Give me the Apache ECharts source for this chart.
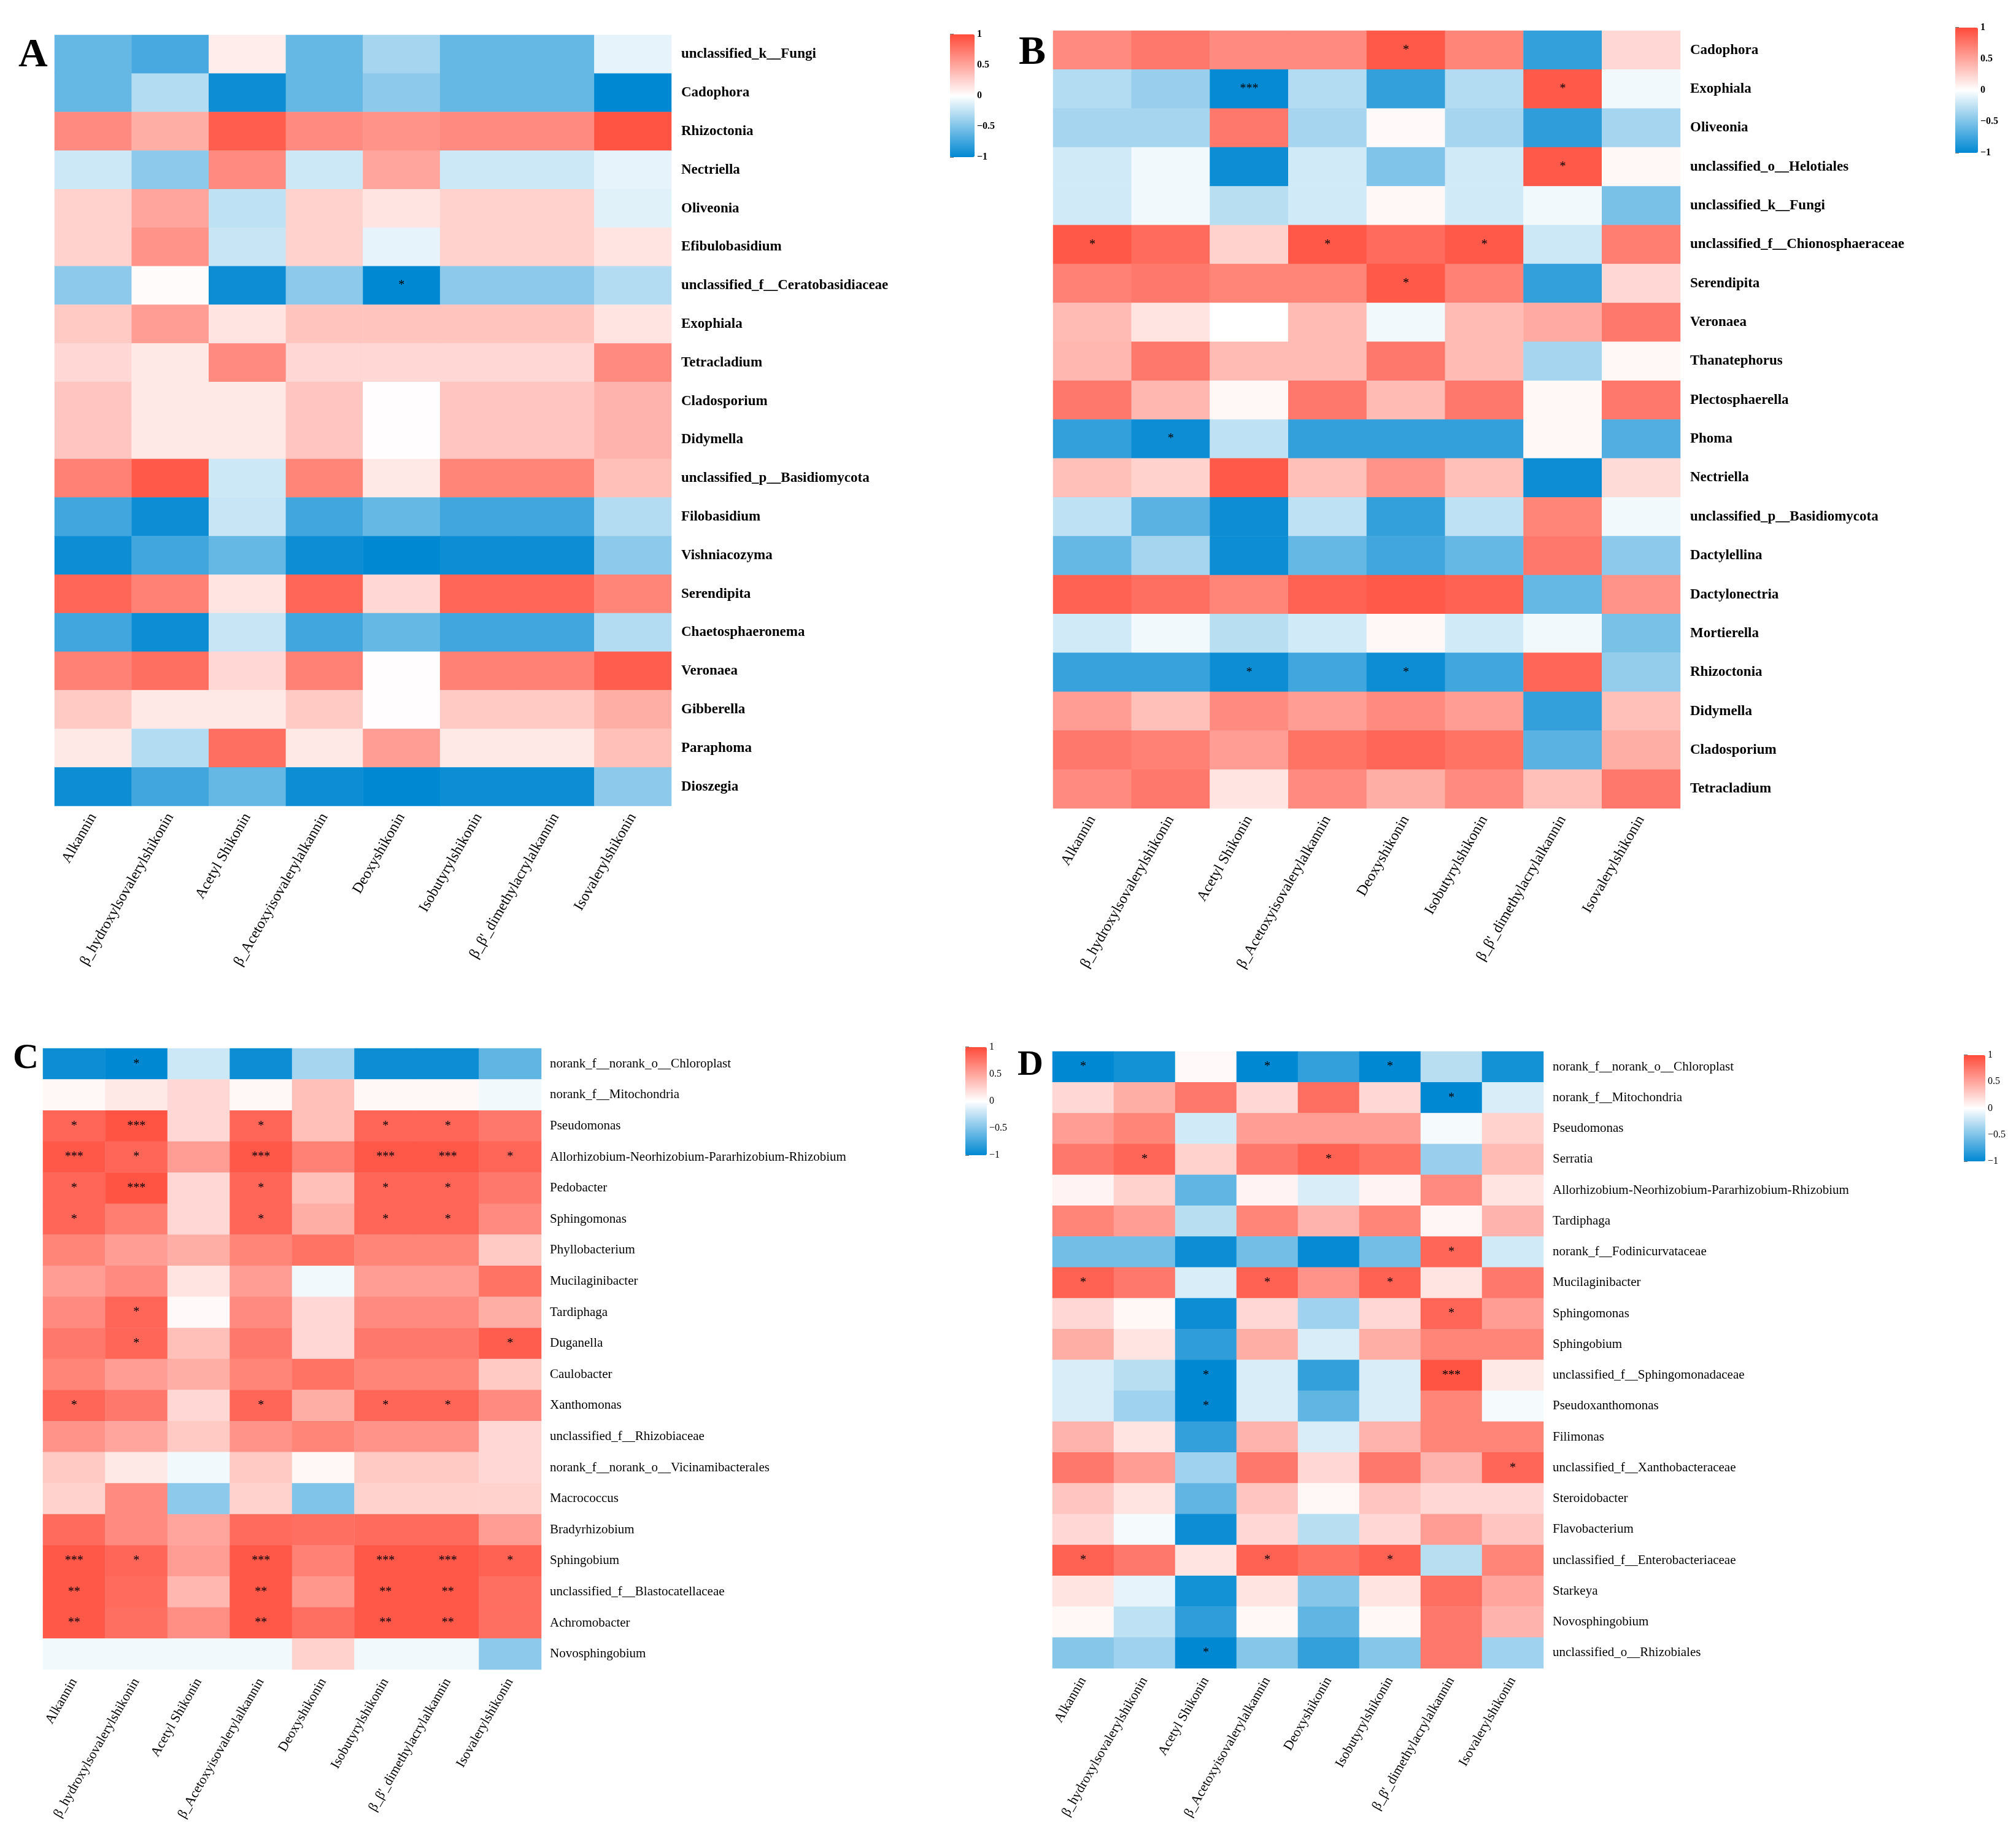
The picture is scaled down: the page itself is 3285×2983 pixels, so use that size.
<!DOCTYPE html>
<html><head><meta charset="utf-8">
<script src="https://cdn.jsdelivr.net/npm/echarts@6/dist/echarts.min.js"></script>
<style>html,body{margin:0;padding:0;background:#fff}#c{width:3285px;height:2983px}</style>
</head><body><div id="c"></div>
<script>
// ---------- DATA ----------
const compounds = ["Alkannin","β_hydroxylsovalerylshikonin","Acetyl Shikonin","β_Acetoxyisovalerylalkannin","Deoxyshikonin","Isobutyrylshikonin","β_β'_dimethylacrylalkannin","Isovalerylshikonin"];

const rowsA = ["unclassified_k__Fungi","Cadophora","Rhizoctonia","Nectriella","Oliveonia","Efibulobasidium","unclassified_f__Ceratobasidiaceae","Exophiala","Tetracladium","Cladosporium","Didymella","unclassified_p__Basidiomycota","Filobasidium","Vishniacozyma","Serendipita","Chaetosphaeronema","Veronaea","Gibberella","Paraphoma","Dioszegia"];
const valuesA = [
 [-0.6,-0.72,0.1,-0.6,-0.35,-0.6,-0.6,-0.1],
 [-0.6,-0.3,-0.95,-0.6,-0.45,-0.6,-0.6,-1.0],
 [0.65,0.45,0.9,0.65,0.6,0.65,0.65,0.95],
 [-0.2,-0.45,0.65,-0.2,0.5,-0.2,-0.2,-0.1],
 [0.25,0.5,-0.25,0.25,0.15,0.25,0.25,-0.12],
 [0.25,0.6,-0.22,0.25,-0.1,0.25,0.25,0.15],
 [-0.45,0.02,-0.95,-0.45,-1.0,-0.45,-0.45,-0.3],
 [0.3,0.55,0.15,0.33,0.33,0.33,0.33,0.15],
 [0.22,0.12,0.65,0.22,0.22,0.22,0.22,0.65],
 [0.32,0.12,0.12,0.32,0.01,0.32,0.32,0.42],
 [0.32,0.12,0.12,0.32,0.01,0.32,0.32,0.42],
 [0.7,0.92,-0.2,0.68,0.12,0.68,0.68,0.35],
 [-0.75,-0.95,-0.22,-0.75,-0.6,-0.75,-0.75,-0.3],
 [-0.95,-0.75,-0.6,-0.95,-1.0,-0.95,-0.95,-0.45],
 [0.85,0.7,0.15,0.85,0.22,0.85,0.85,0.68],
 [-0.75,-0.95,-0.22,-0.75,-0.6,-0.75,-0.75,-0.3],
 [0.7,0.8,0.22,0.7,0.01,0.7,0.7,0.9],
 [0.3,0.12,0.12,0.3,0.01,0.3,0.3,0.45],
 [0.12,-0.3,0.8,0.12,0.55,0.12,0.12,0.35],
 [-0.95,-0.75,-0.6,-0.95,-1.0,-0.95,-0.95,-0.45]
];
const sigA = [[6,4,"*"]];

const rowsB = ["Cadophora","Exophiala","Oliveonia","unclassified_o__Helotiales","unclassified_k__Fungi","unclassified_f__Chionosphaeraceae","Serendipita","Veronaea","Thanatephorus","Plectosphaerella","Phoma","Nectriella","unclassified_p__Basidiomycota","Dactylellina","Dactylonectria","Mortierella","Rhizoctonia","Didymella","Cladosporium","Tetracladium"];
const valuesB = [
 [0.65,0.75,0.65,0.65,0.92,0.68,-0.8,0.22],
 [-0.3,-0.4,-0.98,-0.3,-0.8,-0.3,0.92,-0.05],
 [-0.35,-0.35,0.75,-0.35,0.03,-0.35,-0.82,-0.35],
 [-0.18,-0.05,-0.95,-0.18,-0.5,-0.18,0.92,0.04],
 [-0.18,-0.05,-0.28,-0.18,0.04,-0.18,-0.05,-0.52],
 [0.93,0.82,0.25,0.93,0.82,0.92,-0.2,0.72],
 [0.7,0.75,0.68,0.68,0.92,0.7,-0.8,0.22],
 [0.38,0.15,0.0,0.38,-0.05,0.38,0.47,0.75],
 [0.4,0.75,0.38,0.38,0.75,0.38,-0.35,0.04],
 [0.75,0.4,0.04,0.75,0.38,0.75,0.04,0.75],
 [-0.8,-0.95,-0.25,-0.8,-0.8,-0.8,0.04,-0.68],
 [0.35,0.25,0.92,0.35,0.6,0.35,-0.95,0.2],
 [-0.25,-0.65,-0.95,-0.25,-0.8,-0.25,0.68,-0.05],
 [-0.6,-0.35,-0.95,-0.6,-0.75,-0.6,0.75,-0.45],
 [0.88,0.8,0.68,0.88,0.92,0.88,-0.6,0.6],
 [-0.18,-0.05,-0.28,-0.18,0.04,-0.18,-0.05,-0.52],
 [-0.78,-0.78,-0.95,-0.75,-0.95,-0.75,0.85,-0.42],
 [0.55,0.35,0.65,0.55,0.65,0.55,-0.8,0.35],
 [0.75,0.7,0.55,0.78,0.85,0.78,-0.65,0.45],
 [0.65,0.75,0.15,0.65,0.45,0.65,0.35,0.75]
];
const sigB = [[0,4,"*"],[1,2,"***"],[1,6,"*"],[3,6,"*"],[5,0,"*"],[5,3,"*"],[5,5,"*"],[6,4,"*"],[10,1,"*"],[16,2,"*"],[16,4,"*"]];

const rowsC = ["norank_f__norank_o__Chloroplast","norank_f__Mitochondria","Pseudomonas","Allorhizobium-Neorhizobium-Pararhizobium-Rhizobium","Pedobacter","Sphingomonas","Phyllobacterium","Mucilaginibacter","Tardiphaga","Duganella","Caulobacter","Xanthomonas","unclassified_f__Rhizobiaceae","norank_f__norank_o__Vicinamibacterales","Macrococcus","Bradyrhizobium","Sphingobium","unclassified_f__Blastocatellaceae","Achromobacter","Novosphingobium"];
const valuesC = [
 [-0.95,-1.0,-0.2,-0.95,-0.35,-0.95,-0.95,-0.62],
 [0.04,0.12,0.22,0.04,0.35,0.04,0.04,-0.05],
 [0.85,0.95,0.22,0.85,0.35,0.85,0.85,0.75],
 [0.93,0.85,0.55,0.93,0.7,0.93,0.93,0.85],
 [0.85,0.95,0.22,0.85,0.35,0.85,0.85,0.75],
 [0.85,0.72,0.22,0.85,0.45,0.85,0.85,0.65],
 [0.68,0.55,0.45,0.68,0.78,0.68,0.68,0.3],
 [0.55,0.65,0.15,0.55,-0.05,0.55,0.55,0.78],
 [0.65,0.85,0.03,0.65,0.22,0.65,0.65,0.45],
 [0.75,0.85,0.35,0.75,0.22,0.75,0.75,0.9],
 [0.68,0.55,0.45,0.68,0.78,0.68,0.68,0.3],
 [0.85,0.75,0.22,0.85,0.45,0.85,0.85,0.65],
 [0.6,0.5,0.3,0.6,0.68,0.6,0.6,0.22],
 [0.3,0.12,-0.05,0.3,0.04,0.3,0.3,0.22],
 [0.25,0.65,-0.45,0.25,-0.5,0.25,0.25,0.25],
 [0.82,0.65,0.5,0.82,0.8,0.82,0.82,0.55],
 [0.93,0.85,0.55,0.93,0.7,0.93,0.93,0.88],
 [0.93,0.82,0.4,0.93,0.58,0.93,0.93,0.8],
 [0.93,0.8,0.62,0.93,0.8,0.93,0.93,0.8],
 [-0.05,-0.05,-0.05,-0.05,0.25,-0.05,-0.05,-0.45]
];
const sigC = [[0,1,"*"],
 [2,0,"*"],[2,1,"***"],[2,3,"*"],[2,5,"*"],[2,6,"*"],
 [3,0,"***"],[3,1,"*"],[3,3,"***"],[3,5,"***"],[3,6,"***"],[3,7,"*"],
 [4,0,"*"],[4,1,"***"],[4,3,"*"],[4,5,"*"],[4,6,"*"],
 [5,0,"*"],[5,3,"*"],[5,5,"*"],[5,6,"*"],
 [8,1,"*"],[9,1,"*"],[9,7,"*"],
 [11,0,"*"],[11,3,"*"],[11,5,"*"],[11,6,"*"],
 [16,0,"***"],[16,1,"*"],[16,3,"***"],[16,5,"***"],[16,6,"***"],[16,7,"*"],
 [17,0,"**"],[17,3,"**"],[17,5,"**"],[17,6,"**"],
 [18,0,"**"],[18,3,"**"],[18,5,"**"],[18,6,"**"]];

const rowsD = ["norank_f__norank_o__Chloroplast","norank_f__Mitochondria","Pseudomonas","Serratia","Allorhizobium-Neorhizobium-Pararhizobium-Rhizobium","Tardiphaga","norank_f__Fodinicurvataceae","Mucilaginibacter","Sphingomonas","Sphingobium","unclassified_f__Sphingomonadaceae","Pseudoxanthomonas","Filimonas","unclassified_f__Xanthobacteraceae","Steroidobacter","Flavobacterium","unclassified_f__Enterobacteriaceae","Starkeya","Novosphingobium","unclassified_o__Rhizobiales"];
const valuesD = [
 [-1.0,-0.92,0.03,-1.0,-0.8,-1.0,-0.28,-0.92],
 [0.22,0.45,0.75,0.22,0.8,0.22,-1.0,-0.15],
 [0.55,0.68,-0.18,0.55,0.55,0.55,-0.04,0.25],
 [0.75,0.85,0.25,0.75,0.88,0.78,-0.4,0.38],
 [0.06,0.25,-0.62,0.06,-0.15,0.06,0.65,0.15],
 [0.68,0.55,-0.28,0.68,0.42,0.68,0.05,0.42],
 [-0.55,-0.55,-0.95,-0.55,-0.98,-0.55,0.85,-0.18],
 [0.88,0.75,-0.15,0.88,0.6,0.88,0.15,0.75],
 [0.22,0.04,-0.95,0.22,-0.38,0.22,0.85,0.55],
 [0.45,0.15,-0.82,0.45,-0.15,0.45,0.68,0.68],
 [-0.15,-0.28,-1.0,-0.15,-0.8,-0.15,0.95,0.12],
 [-0.15,-0.38,-1.0,-0.15,-0.62,-0.15,0.68,-0.04],
 [0.42,0.15,-0.8,0.42,-0.15,0.42,0.68,0.68],
 [0.75,0.55,-0.38,0.75,0.22,0.75,0.42,0.85],
 [0.32,0.15,-0.62,0.32,0.04,0.32,0.22,0.22],
 [0.22,-0.04,-0.95,0.22,-0.28,0.22,0.55,0.32],
 [0.88,0.75,0.15,0.88,0.78,0.88,-0.28,0.68],
 [0.15,-0.1,-0.92,0.15,-0.48,0.15,0.8,0.5],
 [0.04,-0.25,-0.82,0.04,-0.62,0.04,0.75,0.42],
 [-0.48,-0.38,-1.0,-0.48,-0.8,-0.48,0.75,-0.38]
];
const sigD = [[0,0,"*"],[0,3,"*"],[0,5,"*"],[1,6,"*"],[3,1,"*"],[3,4,"*"],[6,6,"*"],
 [7,0,"*"],[7,3,"*"],[7,5,"*"],[8,6,"*"],[10,2,"*"],[10,6,"***"],[11,2,"*"],[13,7,"*"],
 [16,0,"*"],[16,3,"*"],[16,5,"*"],[19,2,"*"]];

const scaleTicks = [-1,-0.5,0,0.5,1];
const panelLetters = ["A","B","C","D"];

// ---------- LAYOUT ----------
const FONT = '"Liberation Serif","Times New Roman",serif';
const panels = [
 {rows:rowsA, vals:valuesA, sig:sigA, grid:{left:89,top:57,width:1005,height:1256}, bar:{left:1548,top:56,w:40,h:200}, rowFont:{size:23,bold:true}, colFont:24, rowMargin:16, colMargin:14, tickBold:true, letter:{x:30,y:58,size:66}},
 {rows:rowsB, vals:valuesB, sig:sigB, grid:{left:1716,top:50,width:1022,height:1267}, bar:{left:3186,top:45,w:37,h:204}, rowFont:{size:23,bold:true}, colFont:24, rowMargin:16, colMargin:14, tickBold:true, letter:{x:1660,y:54,size:66}},
 {rows:rowsC, vals:valuesC, sig:sigC, grid:{left:70,top:1708,width:812,height:1012}, bar:{left:1573,top:1706,w:35,h:176}, rowFont:{size:21,bold:false}, colFont:22, rowMargin:14, colMargin:16, tickBold:false, letter:{x:21,y:1696,size:58}},
 {rows:rowsD, vals:valuesD, sig:sigD, grid:{left:1715,top:1713,width:800,height:1005}, bar:{left:3200,top:1719,w:35,h:173}, rowFont:{size:21,bold:false}, colFont:22, rowMargin:15, colMargin:16, tickBold:false, letter:{x:1658,y:1707,size:58}}
];

const hmGrids=[], hmX=[], hmY=[], cbGrids=[], cbX=[], cbY=[], series=[], visualMaps=[], graphics=[];
panels.forEach((p,i)=>{
  const sigMap = {};
  p.sig.forEach(s=>{ sigMap[s[0]+','+s[1]] = s[2]; });
  hmGrids.push({left:p.grid.left, top:p.grid.top, width:p.grid.width, height:p.grid.height, containLabel:false});
  hmX.push({type:'category', gridIndex:i, data:compounds, position:'bottom',
    axisLine:{show:false}, axisTick:{show:false}, splitArea:{show:false},
    axisLabel:{rotate:60, interval:0, margin:p.colMargin, fontFamily:FONT, fontSize:p.colFont, color:'#000'}});
  hmY.push({type:'category', gridIndex:i, data:p.rows, inverse:true, position:'right',
    axisLine:{show:false}, axisTick:{show:false}, splitArea:{show:false},
    axisLabel:{interval:0, margin:p.rowMargin, fontFamily:FONT, fontSize:p.rowFont.size, fontWeight:p.rowFont.bold?'bold':'normal', color:'#000'}});
  const data=[];
  p.vals.forEach((row,r)=>row.forEach((v,c)=>data.push([c,r,v])));
  series.push({type:'heatmap', xAxisIndex:i, yAxisIndex:i, data:data,
    itemStyle:{borderWidth:0},
    emphasis:{disabled:true},
    label:{show:true, position:'inside', color:'#000', fontFamily:FONT, fontSize:20,
      formatter:(d)=> sigMap[d.data[1]+','+d.data[0]] || ''}});
  visualMaps.push({type:'continuous', seriesIndex:i, min:-1, max:1, calculable:false, hoverLink:false,
    orient:'vertical', left:p.bar.left, top:p.bar.top, itemWidth:p.bar.w, itemHeight:p.bar.h, padding:0,
    text:null, showLabel:false,
    inRange:{color:['#0088D2','#FFFFFF','#FF4B3A']}});
  // colour-bar tick axis
  const gi = 4+i;
  cbGrids.push({left:p.bar.left, top:p.bar.top, width:p.bar.w, height:p.bar.h, containLabel:false});
  cbX.push({type:'value', gridIndex:gi, show:false, min:0, max:1});
  cbY.push({type:'value', gridIndex:gi, position:'right', min:scaleTicks[0], max:scaleTicks[scaleTicks.length-1], interval:0.5,
    axisLine:{show:false}, splitLine:{show:false},
    axisTick:{show:true, length:6, lineStyle:{color:'#777', width:2}},
    axisLabel:{margin:4, fontFamily:FONT, fontSize:16, fontWeight:p.tickBold?'bold':'normal', color:'#000',
      formatter:(v)=> v<0 ? '\u2212'+Math.abs(v) : String(v)}});
  graphics.push({type:'text', left:p.letter.x, top:p.letter.y,
    style:{text:panelLetters[i], font:'bold '+p.letter.size+'px '+FONT, fill:'#000'}});
});

const chart = echarts.init(document.getElementById('c'), null, {renderer:'canvas'});
chart.setOption({
  animation:false,
  backgroundColor:'#fff',
  grid:hmGrids.concat(cbGrids), xAxis:hmX.concat(cbX), yAxis:hmY.concat(cbY),
  series:series, visualMap:visualMaps, graphic:graphics
});
</script></body></html>
